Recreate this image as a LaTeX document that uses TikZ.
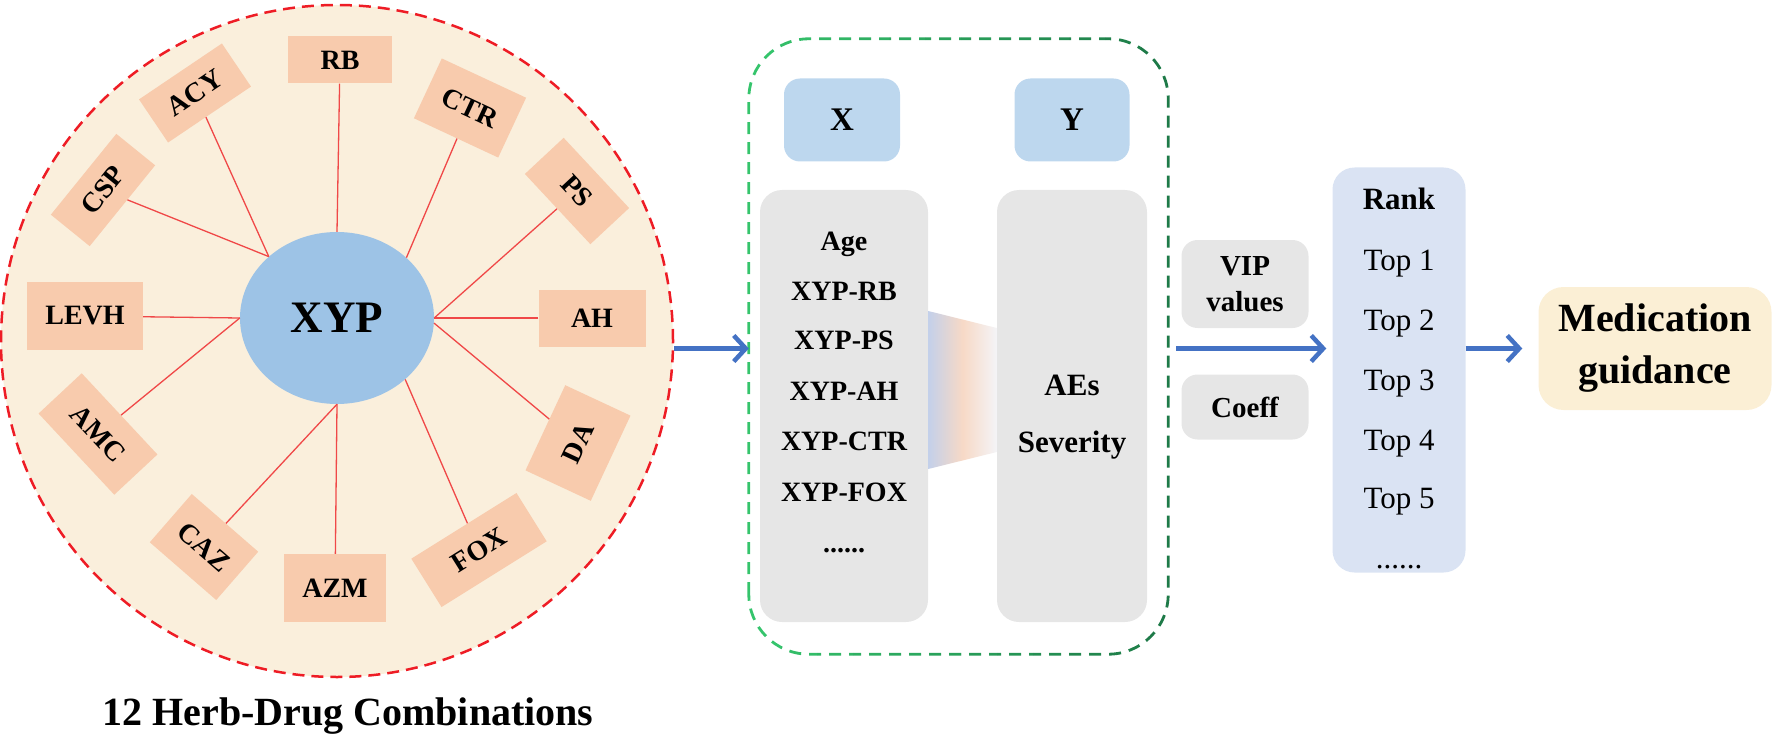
\documentclass[tikz,border=0pt]{standalone}
\usepackage{fontspec}
\setmainfont{Liberation Serif}
\usetikzlibrary{arrows.meta,shapes.geometric}
\definecolor{cream}{HTML}{FAEFDC}
\definecolor{medcream}{HTML}{FBEFD5}
\definecolor{peach}{HTML}{F8CBAD}
\definecolor{xypblue}{HTML}{9DC3E6}
\definecolor{xyblue}{HTML}{BDD7EE}
\definecolor{grayfill}{HTML}{E6E6E6}
\definecolor{rankfill}{HTML}{DAE3F3}
\definecolor{arrblue}{HTML}{4472C4}
\definecolor{cred}{HTML}{EE1C25}
\definecolor{spokered}{HTML}{F04848}
\definecolor{glight}{HTML}{35C46C}
\definecolor{gdark}{HTML}{1E7A48}
\definecolor{gradA}{HTML}{C3D0EA}
\definecolor{gradB}{HTML}{F7D9C6}
\definecolor{gradC}{HTML}{F4F4F7}
\newcommand{\fsz}[1]{\fontsize{#1}{#1}\selectfont}
\begin{document}
\begin{tikzpicture}[x=1pt,y=-1pt,
  drug/.style={fill=peach, inner sep=0pt, font=\bfseries\fsz{28}},
  spoke/.style={draw=spokered, line width=1.3pt},
  greendash/.style={line width=2.8pt, dash pattern=on 12pt off 8pt, rounded corners=60pt},
  xybox/.style={fill=xyblue, rounded corners=16pt, inner sep=0pt, font=\bfseries\fsz{33}},
  graybox/.style={fill=grayfill, rounded corners=22pt, inner sep=0pt},
  listtxt/.style={anchor=base, inner sep=0pt, font=\bfseries\fsz{28}},
  ranktxt/.style={anchor=base, inner sep=0pt, font=\fsz{31}},
  arr/.style={draw=arrblue, line width=4.5pt, -{Straight Barb[length=12pt,width=26pt]}},
]
\useasboundingbox (0,0) rectangle (1774,746);

% ---------- left: herb-drug circle ----------
\node[circle, fill=cream, draw=cred, line width=2.5pt, dash pattern=on 12pt off 7pt,
      minimum size=672pt, inner sep=0pt] (herb) at (337,341) {};
\node[ellipse, fill=xypblue, minimum width=194pt, minimum height=172pt, inner sep=0pt,
      font=\bfseries\fsz{45}] (xyp) at (337,318) {XYP};

\node[drug, minimum width=104pt, minimum height=47pt] (rb) at (340,60) {RB};
\node[drug, minimum width=93pt, minimum height=66pt, rotate=-25] (ctr) at (470,108) {CTR};
\node[drug, minimum width=96pt, minimum height=53pt, rotate=-47] (ps) at (577,191) {PS};
\node[drug, minimum width=107pt, minimum height=57pt] (ah) at (592,318) {AH};
\node[drug, minimum width=94pt, minimum height=72pt, rotate=65] (da) at (578,443) {DA};
\node[drug, minimum width=124pt, minimum height=57pt, rotate=32] (fox) at (479,550) {FOX};
\node[drug, minimum width=102pt, minimum height=68pt] (azm) at (335,588) {AZM};
\node[drug, minimum width=88pt, minimum height=64pt, rotate=-41] (caz) at (204,547) {CAZ};
\node[drug, minimum width=111pt, minimum height=59pt, rotate=-47] (amc) at (98,434) {AMC};
\node[drug, minimum width=116pt, minimum height=68pt] (levh) at (85,316) {LEVH};
\node[drug, minimum width=104pt, minimum height=50pt, rotate=51] (csp) at (103,190) {CSP};
\node[drug, minimum width=100pt, minimum height=52pt, rotate=34] (acy) at (195,93) {ACY};

\draw[spoke] (rb) -- (xyp.north);
\draw[spoke] (ctr) -- (xyp.41);
\draw[spoke] (ps) -- (xyp.east);
\draw[spoke] (ah) -- (xyp.east);
\draw[spoke] (da) -- (xyp.-3);
\draw[spoke] (fox) -- (xyp.-42);
\draw[spoke] (azm) -- (xyp.south);
\draw[spoke] (caz) -- (xyp.south);
\draw[spoke] (amc) -- (xyp.west);
\draw[spoke] (levh) -- (xyp.west);
\draw[spoke] (csp) -- (xyp.138);
\draw[spoke] (acy) -- (xyp.138);

\node[font=\bfseries\fsz{40}, inner sep=0pt] (title) at (348,716) {12 Herb-Drug Combinations};

% ---------- middle: X / Y ----------
\node[minimum width=419pt, minimum height=615pt, inner sep=0pt] (grp) at (958.5,346.5) {};
\foreach \i in {0,...,11} {
  \pgfmathtruncatemacro{\pc}{100-\i*100/11}
  \begin{scope}
    \clip (745+\i*36,0) rectangle (781+\i*36,746);
    \draw[greendash, draw=glight!\pc!gdark] (grp.south west) rectangle (grp.north east);
  \end{scope}
}

\node[xybox, minimum width=116pt, minimum height=83pt] (xb) at (842,120) {X};
\node[xybox, minimum width=115pt, minimum height=83pt] (yb) at (1072,120) {Y};

\node[graybox, minimum width=168pt, minimum height=432pt] (lg) at (844,406) {};
\node[graybox, minimum width=150pt, minimum height=432pt] (rg) at (1072,406) {};

\shade[left color=gradA, right color=gradC, middle color=gradB]
  (lg.east |- 0,311) -- (rg.west |- 0,328) -- (rg.west |- 0,452) -- (lg.east |- 0,469) -- cycle;

\node[listtxt] (age) at (844,250) {Age};
\node[listtxt] (xrb) at (844,300) {XYP-RB};
\node[listtxt] (xps) at (844,349) {XYP-PS};
\node[listtxt] (xah) at (844,400) {XYP-AH};
\node[listtxt] (xctr) at (844,450) {XYP-CTR};
\node[listtxt] (xfox) at (844,501) {XYP-FOX};
\node[listtxt] (xdots) at (844,552) {......};

\node[anchor=base, inner sep=0pt, font=\bfseries\fsz{31}] (aes) at (1072,395) {AEs};
\node[anchor=base, inner sep=0pt, font=\bfseries\fsz{31}] (sev) at (1072,452) {Severity};

% ---------- right ----------
\node[graybox, rounded corners=16pt, minimum width=127pt, minimum height=88pt, align=center,
      font=\bfseries\fontsize{29}{36}\selectfont] (vip) at (1245,284) {VIP\\values};
\node[graybox, rounded corners=16pt, minimum width=127pt, minimum height=65pt,
      font=\bfseries\fsz{29}] (coeff) at (1245,407) {Coeff};

\node[fill=rankfill, rounded corners=22pt, inner sep=0pt, minimum width=133pt, minimum height=405pt] (rank) at (1399,370) {};
\node[ranktxt, font=\bfseries\fsz{31}] (rk) at (1399,210) {Rank};
\node[ranktxt] (t1) at (1399,270) {Top 1};
\node[ranktxt] (t2) at (1399,330) {Top 2};
\node[ranktxt] (t3) at (1399,390) {Top 3};
\node[ranktxt] (t4) at (1399,450) {Top 4};
\node[ranktxt] (t5) at (1399,508) {Top 5};
\node[ranktxt] (tdots) at (1399,568) {......};

\node[fill=medcream, rounded corners=25pt, inner sep=0pt, minimum width=233pt, minimum height=123pt,
      align=center, font=\bfseries\fontsize{40}{52}\selectfont] (med) at (1655,348.5) {Medication\\guidance};

% ---------- arrows ----------
\draw[arr] (herb.east |- med.west) -- (grp.west |- med.west);
\draw[arr, shorten <=8pt, shorten >=6pt] (grp.east |- med.west) -- (rank.west |- med.west);
\draw[arr, shorten >=16pt] (rank.east |- med.west) -- (med.west);
\end{tikzpicture}
\end{document}
